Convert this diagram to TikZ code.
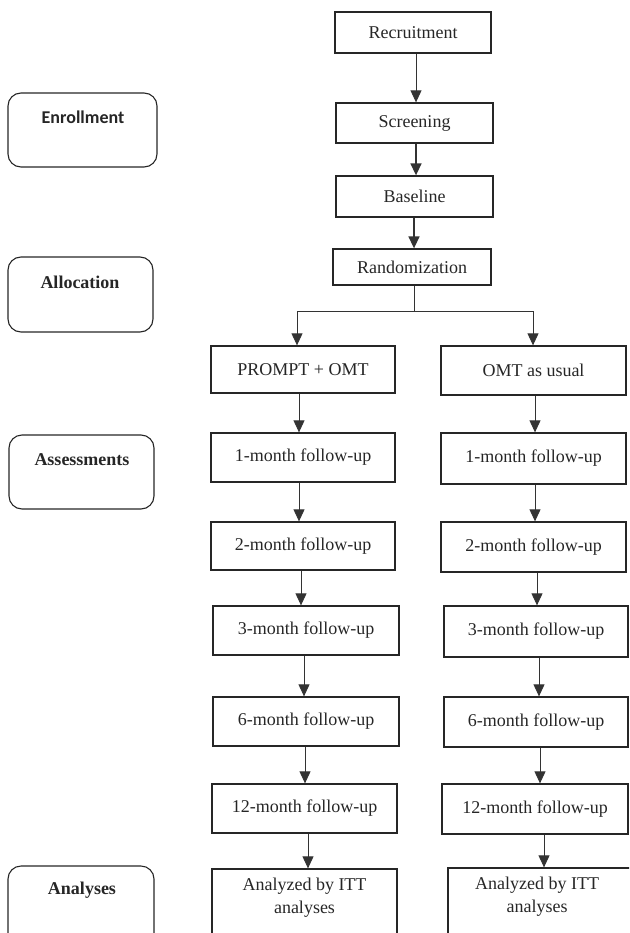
\documentclass[tikz,border=0pt]{standalone}
\usepackage{fontspec}
\setmainfont{Liberation Serif}
\newfontfamily\calib{Carlito}
\usetikzlibrary{arrows.meta}
\begin{document}
\begin{tikzpicture}[x=1pt,y=-1pt,
 box/.style={draw=black!85, line width=1.3pt, inner sep=0pt, align=center,
   font=\fontsize{18}{23}\selectfont, text=black!85},
 stage/.style={draw=black!85, line width=1.1pt, rounded corners=13pt, inner sep=0pt},
 stagetext/.style={font=\fontsize{18}{22}\selectfont\bfseries, text=black!85, inner sep=0pt},
 txt/.style={font=\fontsize{18}{23}\selectfont, text=black!85, inner sep=0pt, align=center},
 arr/.style={draw=black!80, line width=0.9pt, -{Triangle[width=11pt,length=12pt]}},
 arrb/.style={arr, line width=1.6pt},
 ln/.style={draw=black!80, line width=0.9pt}]
\useasboundingbox (0,0) rectangle (629,933);
\clip (0,0) rectangle (629,933);

% left stage boxes
\node[stage, minimum width=149pt, minimum height=74pt] (enr) at (82.5,130) {};
\node[stagetext, font=\fontsize{18}{22}\selectfont\calib\bfseries] (enrt) at (83,117) {Enrollment};
\node[stage, minimum width=145pt, minimum height=75pt] (all) at (80.5,294.5) {};
\node[stagetext] (allt) at (80,282) {Allocation};
\node[stage, minimum width=145pt, minimum height=74pt] (ass) at (81.5,472) {};
\node[stagetext] (asst) at (82,460) {Assessments};
\node[stage, minimum width=146pt, minimum height=100pt] (ana) at (81,916) {};
\node[stagetext] (anat) at (82,890) {Analyses};

% top column
\node[box, minimum width=156pt, minimum height=41pt] (rec) at (413,32.5) {Recruitment};
\node[box, minimum width=157pt, minimum height=40pt] (scr) at (414.5,123) {Screening};
\node[box, minimum width=157pt, minimum height=41pt] (base) at (414.5,196.5) {Baseline};
\node[box, minimum width=158pt, minimum height=36pt] (rand) at (412,267) {Randomization};

% left arm
\node[box, minimum width=184pt, minimum height=47pt] (prompt) at (303,369.5) {PROMPT + OMT};
\node[box, minimum width=184pt, minimum height=49pt] (L1) at (303,457.5) {1-month follow-up};
\node[box, minimum width=184pt, minimum height=48pt] (L2) at (303,546) {2-month follow-up};
\node[box, minimum width=186pt, minimum height=49pt] (L3) at (306,630.5) {3-month follow-up};
\node[box, minimum width=186pt, minimum height=49pt] (L6) at (306,721.5) {6-month follow-up};
\node[box, minimum width=185pt, minimum height=49pt] (L12) at (304.5,808.5) {12-month follow-up};
\node[box, minimum width=185pt, minimum height=80pt] (LA) at (304.5,909) {};
\node[txt] (LAt) at (304.5,898) {Analyzed by ITT\\analyses};

% right arm
\node[box, minimum width=185pt, minimum height=49pt] (omt) at (533.5,370.5) {OMT as usual};
\node[box, minimum width=185pt, minimum height=51pt] (R1) at (533.5,458.5) {1-month follow-up};
\node[box, minimum width=185pt, minimum height=50pt] (R2) at (533.5,547) {2-month follow-up};
\node[box, minimum width=184pt, minimum height=51pt] (R3) at (536,631.5) {3-month follow-up};
\node[box, minimum width=184pt, minimum height=50pt] (R6) at (536,722) {6-month follow-up};
\node[box, minimum width=186pt, minimum height=50pt] (R12) at (535,809) {12-month follow-up};
\node[box, minimum width=183pt, minimum height=80pt] (RA) at (539.5,908) {};
\node[txt] (RAt) at (537,897) {Analyzed by ITT\\analyses};

% arrow x positions
\coordinate (t1) at (416,0);
\coordinate (t2) at (416,0);
\coordinate (t3) at (414,0);
\coordinate (a1) at (299,0);
\coordinate (a2) at (299,0);
\coordinate (a3) at (301,0);
\coordinate (a4) at (304,0);
\coordinate (a5) at (305,0);
\coordinate (a6) at (308,0);
\coordinate (b1) at (535,0);
\coordinate (b2) at (535,0);
\coordinate (b3) at (537,0);
\coordinate (b4) at (539,0);
\coordinate (b5) at (540,0);
\coordinate (b6) at (544,0);

\draw[arr] (rec.south -| t1) -- (scr.north -| t1);
\draw[arrb] (scr.south -| t2) -- (base.north -| t2);
\draw[arrb] (base.south -| t3) -- (rand.north -| t3);

% branch
\coordinate (bm) at (414,311);
\coordinate (bl) at (297,311);
\coordinate (brr) at (533,311);
\draw[ln] (rand.south -| bm) -- (bm);
\draw[ln] (bl) -- (brr);
\draw[arr] (bl) -- (prompt.north -| bl);
\draw[arr] (brr) -- (omt.north -| brr);

% left column arrows
\draw[arr] (prompt.south -| a1) -- (L1.north -| a1);
\draw[arr] (L1.south -| a2) -- (L2.north -| a2);
\draw[arr] (L2.south -| a3) -- (L3.north -| a3);
\draw[arr] (L3.south -| a4) -- (L6.north -| a4);
\draw[arr] (L6.south -| a5) -- (L12.north -| a5);
\draw[arr] (L12.south -| a6) -- (LA.north -| a6);

% right column arrows
\draw[arr] (omt.south -| b1) -- (R1.north -| b1);
\draw[arr] (R1.south -| b2) -- (R2.north -| b2);
\draw[arr] (R2.south -| b3) -- (R3.north -| b3);
\draw[arr] (R3.south -| b4) -- (R6.north -| b4);
\draw[arr] (R6.south -| b5) -- (R12.north -| b5);
\draw[arr] (R12.south -| b6) -- (RA.north -| b6);
\end{tikzpicture}
\end{document}
